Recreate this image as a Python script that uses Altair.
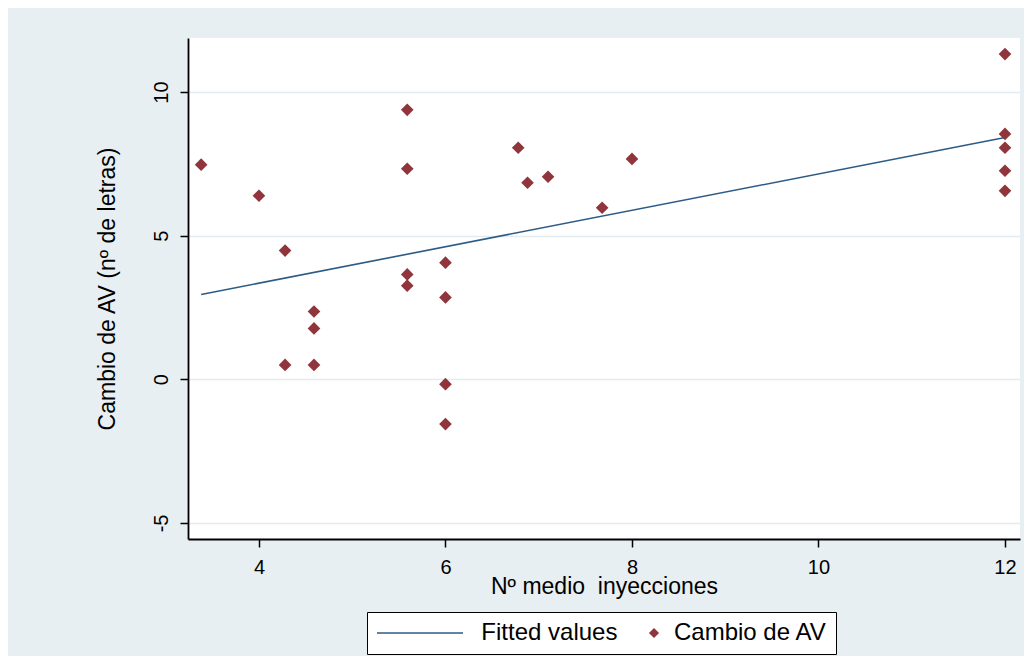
import altair as alt
import pandas as pd

# Data
x_inyecciones = [3.38, 4.0, 4.28, 4.28, 4.59, 4.59, 4.59, 5.59, 5.59, 5.59, 5.59,
                 6.0, 6.0, 6.0, 6.0, 6.78, 6.88, 7.1, 7.68, 8.0,
                 12.0, 12.0, 12.0, 12.0, 12.0]
y_cambio_av = [7.47, 6.39, 4.48, 0.5, 2.36, 1.77, 0.5, 9.38, 7.33, 3.65, 3.26,
               4.06, 2.85, -0.17, -1.56, 8.06, 6.84, 7.05, 5.97, 7.67,
               11.32, 8.54, 8.06, 7.26, 6.56]
series = ["Fitted values", "Cambio de AV"]
x_ticks = [4, 6, 8, 10, 12]
y_ticks = [-5, 0, 5, 10]

df = pd.DataFrame({"x": x_inyecciones, "y": y_cambio_av, "serie": series[1]})

FONT = "Liberation Sans"
BG = "#e8eff2"
GRID = "#e2ecf0"

color_scale = alt.Scale(domain=series, range=["#2c5b86", "#90353b"])
# long stroke for the fitted line (legend only), centred diamond for the points
line_symbol = "M-2.75,0L18.75,0"
diamond_symbol = "M-1,0L0,-1L1,0L0,1Z"
shape_scale = alt.Scale(domain=series, range=[line_symbol, diamond_symbol])

xs = alt.Scale(domain=[3.239, 12.161], nice=False, zero=False)
ys = alt.Scale(domain=[-5.56, 11.88], nice=False, zero=False)

# zero-width space keeps the non-breaking spaces from being trimmed
gap = "\u200b" + "\u00a0" * 11
legend = alt.Legend(
    title=None, orient="none", legendX=179, legendY=574,
    direction="horizontal", strokeColor="black", fillColor="white",
    padding=9, labelFont=FONT, labelFontSize=24, labelColor="black",
    labelLimit=500,
    labelExpr="datum.value == 'Fitted values' ? '" + gap + "' + datum.label : datum.label",
    symbolSize=64, symbolStrokeWidth=1.5, symbolOpacity=1,
    labelOffset=8, columnPadding=24,
)

x_axis = alt.Axis(values=x_ticks, grid=False, labelExpr="'' + datum.value",
                  labelFont=FONT, labelFontSize=20,
                  labelColor="black", labelPadding=10, tickSize=8, tickColor="black",
                  tickWidth=1.5, domainColor="black", domainWidth=1.8,
                  titleFont=FONT, titleFontSize=23, titleFontWeight="normal",
                  titleColor="black", titlePadding=-2)
y_axis = alt.Axis(values=y_ticks, grid=True, gridColor=GRID, gridWidth=1.5,
                  labelExpr="'' + datum.value",
                  labelFont=FONT, labelFontSize=20, labelColor="black",
                  labelAngle=-90, labelAlign="center", labelBaseline="alphabetic",
                  labelPadding=13, tickSize=8, tickColor="black", tickWidth=1.5,
                  domainColor="black", domainWidth=1.8,
                  titleFont=FONT, titleFontSize=23, titleFontWeight="normal",
                  titleColor="black", titlePadding=32)

base = alt.Chart(df)

points = base.mark_point(filled=True, opacity=1, size=160).encode(
    x=alt.X("x:Q", scale=xs, axis=x_axis, title="Nº medio\u00a0 inyecciones"),
    y=alt.Y("y:Q", scale=ys, axis=y_axis, title="Cambio de AV (nº de letras)"),
    color=alt.Color("serie:N", scale=color_scale, legend=legend),
    shape=alt.Shape("serie:N", scale=shape_scale, legend=legend),
)

line = base.transform_regression("x", "y").transform_calculate(
    serie="'Fitted values'"
).mark_line(strokeWidth=1.6).encode(
    x=alt.X("x:Q", scale=xs),
    y=alt.Y("y:Q", scale=ys),
    color=alt.Color("serie:N", scale=color_scale, legend=legend),
)

chart = alt.layer(line, points).properties(
    width=832, height=501,
    background=BG,
    autosize=alt.AutoSizeParams(type="none"),
    padding={"left": 180, "top": 30, "right": 4, "bottom": 117},
).configure_view(stroke=None, fill="white")

chart.save("out.html", embed_options={"renderer": "svg", "actions": False})
